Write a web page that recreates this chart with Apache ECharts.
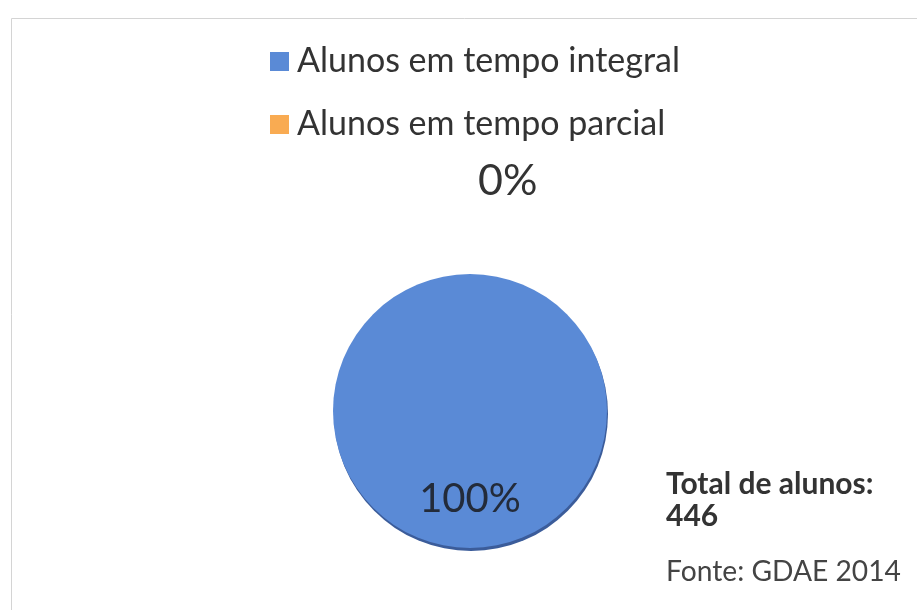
<!DOCTYPE html>
<html>
<head>
<meta charset="utf-8">
<script src="https://cdn.jsdelivr.net/npm/echarts@6/dist/echarts.min.js"></script>
<style>html,body{margin:0;padding:0;background:#fff}#c{width:917px;height:610px}</style>
</head>
<body>
<div id="c"></div>
<script>
const categories = ['Alunos em tempo integral', 'Alunos em tempo parcial'];
const values = [446, 0];
const colors = ['#5a8ad6', '#f9ab52'];
const totalLabel = 'Total de alunos:\n446';
const sourceLabel = 'Fonte: GDAE 2014';

const FONT = 'Lato, "Open Sans", sans-serif';
const chart = echarts.init(document.getElementById('c'));
chart.setOption({
  backgroundColor: '#ffffff',
  animation: false,
  color: colors,
  graphic: [{
    type: 'rect', left: 9, top: 16, silent: true,
    shape: { width: 940, height: 640 },
    style: { fill: 'none', stroke: '#d4d4d4', lineWidth: 1 }
  }],
  title: [{
    text: totalLabel, left: 661, top: 463,
    textStyle: { fontFamily: FONT, fontSize: 30, fontWeight: 'bold', color: '#333', lineHeight: 32 }
  }, {
    text: sourceLabel, left: 661, top: 553,
    textStyle: { fontFamily: FONT, fontSize: 28.2, fontWeight: 'normal', color: '#444' }
  }],
  legend: {
    orient: 'vertical', left: 265, top: 33,
    itemWidth: 19, itemHeight: 19, itemGap: 16,
    icon: 'rect',
    textStyle: { fontFamily: FONT, fontSize: 34, lineHeight: 35, color: '#333', padding: [0, 0, 12, 3] },
    data: categories
  },
  series: [{
    type: 'pie',
    center: [470, 411], radius: 137,
    startAngle: 90, clockwise: true,
    avoidLabelOverlap: false,
    stillShowZeroSum: true,
    minShowLabelAngle: 0,
    itemStyle: { borderWidth: 0, shadowColor: '#3b5c9a', shadowOffsetY: 3, shadowOffsetX: 1, shadowBlur: 0 },
    label: {
      formatter: '{d}%', fontFamily: FONT, color: '#333'
    },
    labelLine: { show: false, length: 93, length2: 0 },
    labelLayout: function (p) {
      return p.dataIndex === 0 ? { dy: 17 } : { align: 'left', dx: 13 };
    },
    data: categories.map((name, i) => {
      const d = { name: name, value: values[i] };
      if (i === 0) {
        d.label = { position: 'inside', color: '#232b3a', fontSize: 40 };
      } else {
        d.label = { position: 'outside', color: '#333', fontSize: 43 };
      }
      return d;
    })
  }]
});
</script>
</body>
</html>
